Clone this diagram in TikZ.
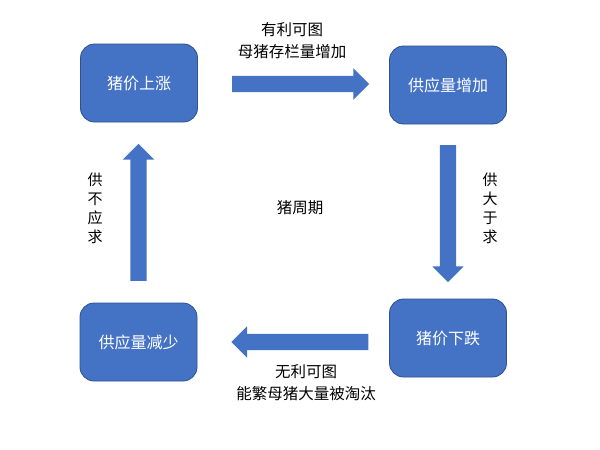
\documentclass[tikz,border=0pt]{standalone}
\usepackage{fontspec}
\setmainfont{Noto Sans CJK SC}
\usetikzlibrary{shapes.arrows}
\definecolor{boxblue}{HTML}{4472C4}
\definecolor{boxedge}{HTML}{2F528F}
\begin{document}
\begin{tikzpicture}[x=1pt,y=-1pt,
  stage/.style={draw=boxedge, line width=0.8pt, fill=boxblue, rounded corners=14pt,
    minimum width=117pt, minimum height=78pt, text=white,
    font=\fontsize{16}{18}\selectfont, inner sep=0pt},
  blockarrow/.style={single arrow, fill=boxblue, draw=none, inner sep=8pt,
    minimum height=137pt, minimum width=31pt, single arrow head extend=7.5pt,
    single arrow head indent=0pt, single arrow tip angle=90},
  lbl/.style={font=\fontsize{15.5}{22}\selectfont, align=center, inner sep=0pt},
  vlbl/.style={font=\fontsize{15}{19}\selectfont, align=center, inner sep=0pt}]
\useasboundingbox (0,0) rectangle (600,450);
\fill[white] (0,0) rectangle (600,450);
% stages
\node[stage] (rise) at (139,83) {猪价上涨};
\node[stage] (more) at (448,85) {供应量增加};
\node[stage] (fall) at (448,338) {猪价下跌};
\node[stage] (less) at (138.5,342) {供应量减少};
% block arrows
\node[blockarrow, shape border rotate=0] (a1) at (296.5,84) {};
\node[blockarrow, shape border rotate=270] (a2) at (448,209.5) {};
\node[blockarrow, shape border rotate=180] (a3) at (304,342) {};
\node[blockarrow, shape border rotate=90] (a4) at (138.5,216.5) {};
% labels
\node[lbl] (l1) at (292,41) {有利可图\\母猪存栏量增加};
\node[vlbl] (l2) at (490,208) {供\\大\\于\\求};
\node[lbl] (l3) at (306,383) {无利可图\\能繁母猪大量被淘汰};
\node[vlbl] (l4) at (95,208) {供\\不\\应\\求};
\node[lbl] (c) at (300,208) {猪周期};
\end{tikzpicture}
\end{document}
